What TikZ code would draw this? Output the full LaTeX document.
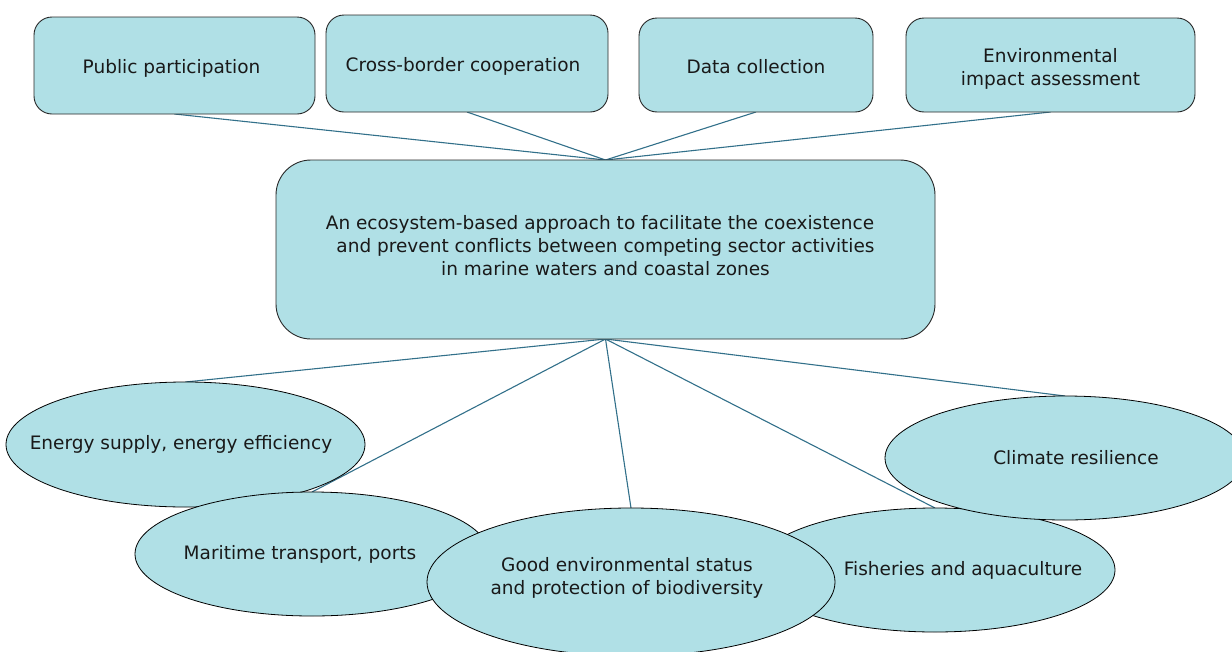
\documentclass[tikz,border=0pt]{standalone}
\usepackage{fontspec}
\setmainfont{DejaVu Sans}
\usetikzlibrary{shapes.geometric}
\pgfdeclarelayer{bg}
\pgfsetlayers{bg,main}
\definecolor{boxfill}{HTML}{B0E0E6}
\definecolor{linkcol}{RGB}{50,112,138}
\definecolor{edgecol}{RGB}{40,40,40}
\newcommand\zw[1]{\makebox[0pt]{#1}}
\begin{document}
\begin{tikzpicture}[x=1pt,y=-1pt,
  txt/.style={font=\fontsize{18.5pt}{23pt}\selectfont, text=black!90},
  topbox/.style={txt, draw=edgecol, line width=0.9pt, fill=boxfill, rounded corners=18pt,
    inner sep=0pt, outer sep=0pt, align=center},
  oneline/.style={text height=16pt, text depth=0pt},
  mainbox/.style={topbox, rounded corners=35pt},
  topic/.style={txt, ellipse, draw=black, line width=0.8pt, fill=boxfill,
    inner sep=0pt, outer sep=0pt, align=center},
  link/.style={draw=linkcol, line width=1.1pt}]
\useasboundingbox (0,0) rectangle (1232,651);

% top boxes
\node[topbox, oneline, minimum width=281pt, minimum height=97pt] (pp)  at (174.5,65.5) {Public participation\hspace*{6pt}};
\node[topbox, oneline, minimum width=282pt, minimum height=97pt] (cb)  at (467,63.5)   {Cross-border cooperation\hspace*{8pt}};
\node[topbox, oneline, minimum width=234pt, minimum height=94pt] (dc)  at (756,65)     {Data collection};
\node[topbox, minimum width=289pt, minimum height=94pt] (eia) at (1050.5,65)  {\mbox{}\\[-1pt]Environmental\\impact assessment};

% central box
\node[mainbox, minimum width=659pt, minimum height=179pt] (main) at (605.5,249.5)
  {An ecosystem-based approach to facilitate the coexistence\hspace*{11pt}\\
   and prevent conflicts between competing sector activities\hspace*{11pt}\\
   in marine waters and coastal zones\hspace*{11pt}\\[-14pt]\mbox{}};

% ellipses
\node[topic, minimum width=359pt, minimum height=125pt] (energy)    at (185.5,444.5) {\zw{Energy supply, energy efficiency\hspace*{9pt}}};
\node[topic, minimum width=354pt, minimum height=124pt] (maritime)  at (312,554)     {\zw{Maritime transport, ports\hspace*{24pt}}};
\node[topic, minimum width=360pt, minimum height=124pt] (fisheries) at (935,570)     {\zw{\hspace*{56pt}Fisheries and aquaculture}};
\node[topic, minimum width=360pt, minimum height=124pt] (climate)   at (1065,458)    {\zw{\hspace*{22pt}Climate resilience}};
\node[topic, minimum width=408pt, minimum height=148pt] (goodenv)   at (631,582)
  {\zw{Good environmental status\hspace*{8pt}}\\\zw{and protection of biodiversity\hspace*{8pt}}\\[-10pt]\mbox{}};

% connectors
\begin{pgfonlayer}{bg}
\draw[link] (pp.south)  -- (main.north);
\draw[link] (cb.south)  -- (main.north);
\draw[link] (dc.south)  -- (main.north);
\draw[link] (eia.south) -- (main.north);
\draw[link] (main.south) -- (energy.north);
\draw[link] (main.south) -- (maritime.north);
\draw[link] (main.south) -- (goodenv.north);
\draw[link] (main.south) -- (fisheries.north);
\draw[link] (main.south) -- (climate.north);
\end{pgfonlayer}
\end{tikzpicture}
\end{document}
